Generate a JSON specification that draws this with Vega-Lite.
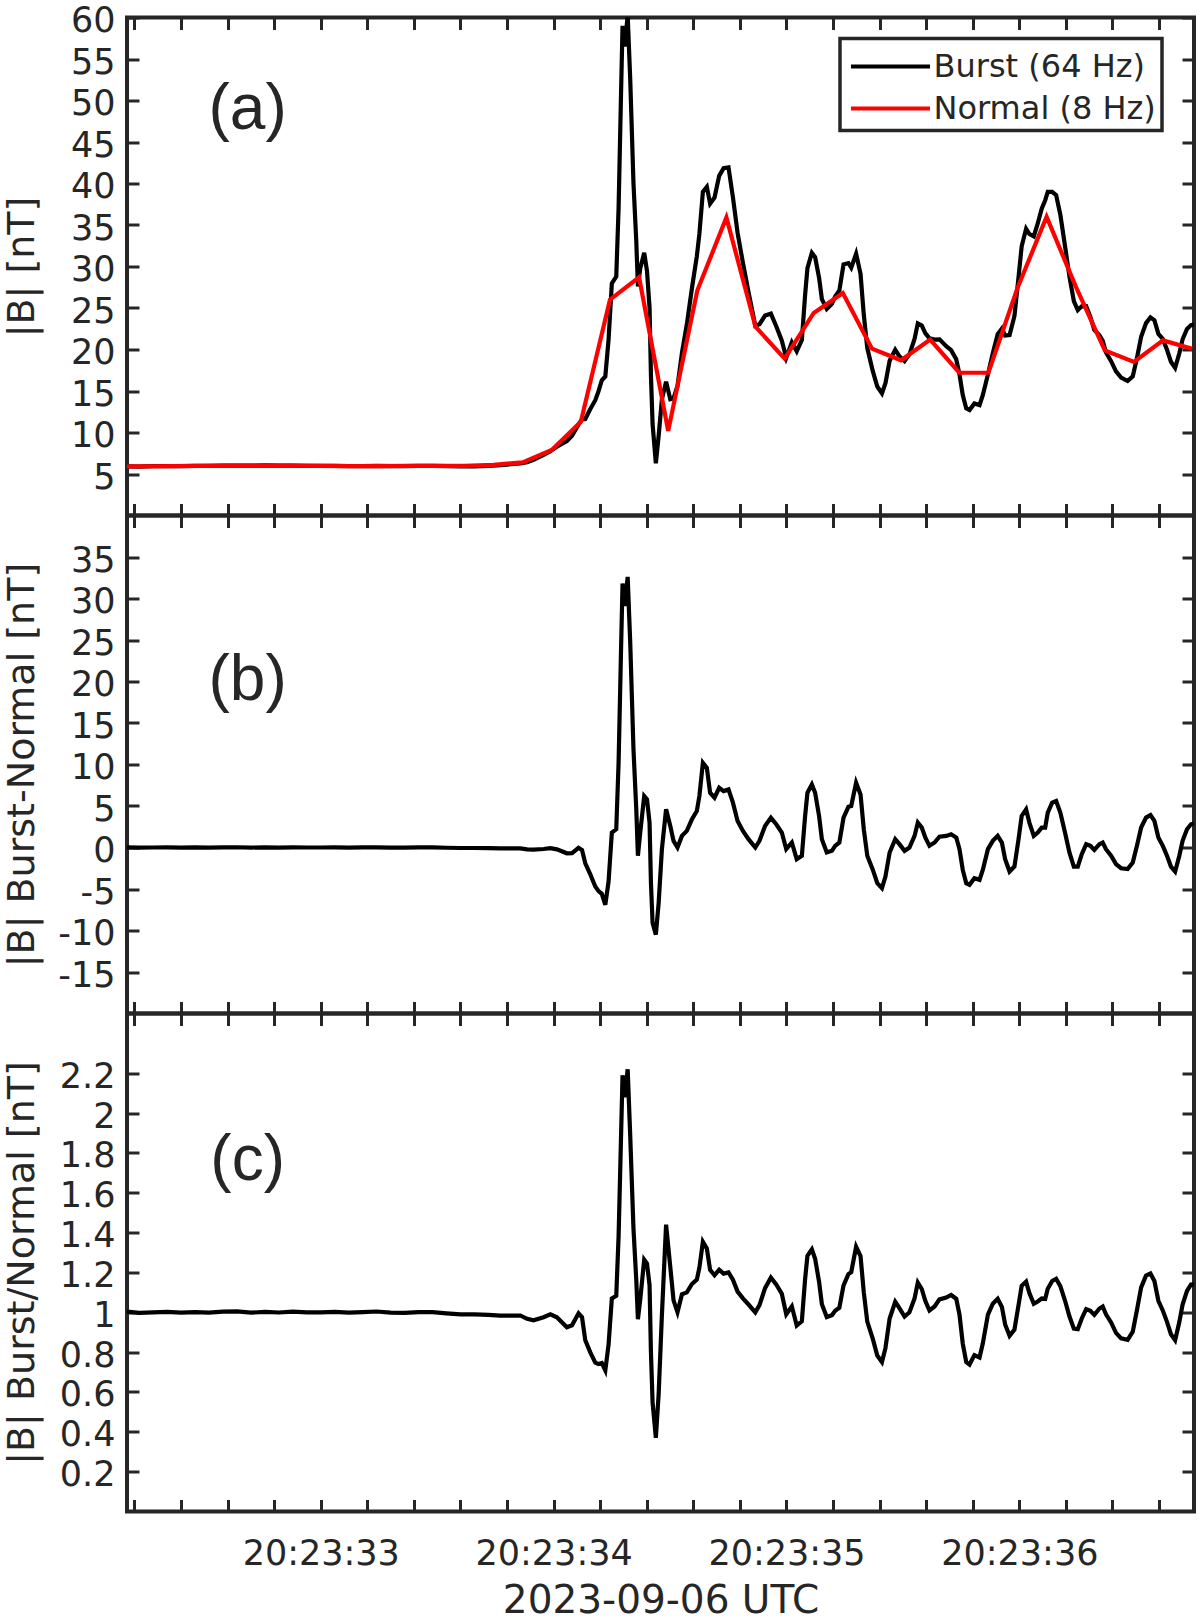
{
  "$schema": "https://vega.github.io/schema/vega-lite/v6.json",
  "padding": {"left": 0, "top": 1.5, "right": 4, "bottom": 0},
  "spacing": 0,
  "bounds": "flush",
  "config": {
    "font": "DejaVu Sans",
    "view": {"stroke": "#262626", "strokeWidth": 4},
    "axis": {
      "domain": false, "grid": false, "ticks": true,
      "tickSize": -12, "tickWidth": 3, "tickColor": "#262626",
      "labelFont": "DejaVu Sans", "labelFontSize": 35, "labelColor": "#262626", "labelPadding": 24,
      "labelOverlap": false, "labelFlush": false, "labelBound": false,
      "titleFont": "DejaVu Sans", "titleFontSize": 38, "titleFontWeight": "normal", "titleColor": "#262626"
    },
    "axisLeft": {"labelOffset": 3}
  },
  "datasets": {
    "burst": [
      {"t": 32.168, "burst": 5.91, "diff": 0.02, "ratio": 1.003},
      {"t": 32.22, "burst": 5.90, "diff": -0.02, "ratio": 0.997},
      {"t": 32.28, "burst": 5.94, "diff": 0.00, "ratio": 1.000},
      {"t": 32.34, "burst": 5.95, "diff": 0.01, "ratio": 1.002},
      {"t": 32.40, "burst": 5.95, "diff": -0.01, "ratio": 0.998},
      {"t": 32.46, "burst": 5.97, "diff": 0.01, "ratio": 1.001},
      {"t": 32.52, "burst": 5.97, "diff": -0.01, "ratio": 0.998},
      {"t": 32.58, "burst": 6.01, "diff": 0.02, "ratio": 1.003},
      {"t": 32.64, "burst": 6.02, "diff": 0.03, "ratio": 1.005},
      {"t": 32.70, "burst": 6.00, "diff": -0.01, "ratio": 0.998},
      {"t": 32.76, "burst": 6.03, "diff": 0.01, "ratio": 1.002},
      {"t": 32.82, "burst": 6.00, "diff": -0.01, "ratio": 0.999},
      {"t": 32.88, "burst": 6.01, "diff": 0.02, "ratio": 1.003},
      {"t": 32.94, "burst": 5.98, "diff": 0.00, "ratio": 1.000},
      {"t": 33.00, "burst": 5.97, "diff": 0.00, "ratio": 1.000},
      {"t": 33.06, "burst": 5.97, "diff": 0.01, "ratio": 1.002},
      {"t": 33.12, "burst": 5.94, "diff": -0.01, "ratio": 0.998},
      {"t": 33.18, "burst": 5.96, "diff": 0.01, "ratio": 1.001},
      {"t": 33.24, "burst": 5.98, "diff": 0.02, "ratio": 1.004},
      {"t": 33.30, "burst": 5.95, "diff": -0.01, "ratio": 0.998},
      {"t": 33.36, "burst": 5.96, "diff": -0.02, "ratio": 0.997},
      {"t": 33.42, "burst": 5.98, "diff": 0.01, "ratio": 1.001},
      {"t": 33.48, "burst": 5.98, "diff": 0.01, "ratio": 1.001},
      {"t": 33.54, "burst": 5.95, "diff": -0.03, "ratio": 0.995},
      {"t": 33.60, "burst": 5.92, "diff": -0.06, "ratio": 0.990},
      {"t": 33.66, "burst": 5.93, "diff": -0.06, "ratio": 0.990},
      {"t": 33.72, "burst": 5.99, "diff": -0.08, "ratio": 0.987},
      {"t": 33.771, "burst": 6.07, "diff": -0.10, "ratio": 0.983},
      {"t": 33.857, "burst": 6.28, "diff": -0.10, "ratio": 0.984},
      {"t": 33.886, "burst": 6.41, "diff": -0.22, "ratio": 0.967},
      {"t": 33.914, "burst": 6.71, "diff": -0.25, "ratio": 0.960},
      {"t": 33.957, "burst": 7.30, "diff": -0.18, "ratio": 0.975},
      {"t": 33.986, "burst": 7.75, "diff": -0.08, "ratio": 0.990},
      {"t": 34.014, "burst": 8.28, "diff": -0.22, "ratio": 0.975},
      {"t": 34.057, "burst": 8.97, "diff": -0.70, "ratio": 0.925},
      {"t": 34.079, "burst": 9.60, "diff": -0.67, "ratio": 0.935},
      {"t": 34.107, "burst": 10.97, "diff": -0.05, "ratio": 0.995},
      {"t": 34.122, "burst": 11.59, "diff": -0.30, "ratio": 0.975},
      {"t": 34.136, "burst": 11.63, "diff": -1.90, "ratio": 0.860},
      {"t": 34.157, "burst": 12.80, "diff": -3.20, "ratio": 0.800},
      {"t": 34.179, "burst": 13.89, "diff": -4.70, "ratio": 0.747},
      {"t": 34.193, "burst": 14.98, "diff": -5.26, "ratio": 0.740},
      {"t": 34.207, "burst": 16.30, "diff": -5.58, "ratio": 0.745},
      {"t": 34.222, "burst": 16.75, "diff": -6.90, "ratio": 0.708},
      {"t": 34.236, "burst": 21.19, "diff": -4.10, "ratio": 0.838},
      {"t": 34.250, "burst": 27.97, "diff": 1.80, "ratio": 1.069},
      {"t": 34.269, "burst": 28.78, "diff": 2.20, "ratio": 1.083},
      {"t": 34.279, "burst": 37.00, "diff": 10.20, "ratio": 1.381},
      {"t": 34.289, "burst": 50.12, "diff": 23.10, "ratio": 1.855},
      {"t": 34.296, "burst": 59.00, "diff": 31.80, "ratio": 2.190},
      {"t": 34.306, "burst": 56.50, "diff": 29.10, "ratio": 2.080},
      {"t": 34.318, "burst": 60.30, "diff": 32.60, "ratio": 2.220},
      {"t": 34.329, "burst": 52.58, "diff": 24.70, "ratio": 1.886},
      {"t": 34.343, "burst": 39.98, "diff": 11.80, "ratio": 1.419},
      {"t": 34.355, "burst": 33.04, "diff": 4.60, "ratio": 1.162},
      {"t": 34.362, "burst": 27.59, "diff": -1.00, "ratio": 0.965},
      {"t": 34.372, "burst": 29.76, "diff": 1.80, "ratio": 1.064},
      {"t": 34.389, "burst": 31.64, "diff": 6.20, "ratio": 1.264},
      {"t": 34.401, "burst": 29.47, "diff": 5.80, "ratio": 1.245},
      {"t": 34.412, "burst": 25.04, "diff": 3.00, "ratio": 1.136},
      {"t": 34.418, "burst": 16.85, "diff": -4.30, "ratio": 0.797},
      {"t": 34.425, "burst": 11.02, "diff": -9.10, "ratio": 0.548},
      {"t": 34.439, "burst": 6.30, "diff": -10.50, "ratio": 0.370},
      {"t": 34.451, "burst": 9.57, "diff": -6.70, "ratio": 0.588},
      {"t": 34.465, "burst": 14.00, "diff": -0.20, "ratio": 0.986},
      {"t": 34.483, "burst": 16.13, "diff": 4.60, "ratio": 1.440},
      {"t": 34.501, "burst": 14.02, "diff": 2.60, "ratio": 1.228},
      {"t": 34.515, "burst": 14.11, "diff": 0.80, "ratio": 1.060},
      {"t": 34.532, "burst": 15.61, "diff": 0.00, "ratio": 1.000},
      {"t": 34.551, "burst": 19.58, "diff": 1.40, "ratio": 1.090},
      {"t": 34.572, "burst": 23.02, "diff": 2.00, "ratio": 1.100},
      {"t": 34.594, "burst": 27.39, "diff": 3.40, "ratio": 1.142},
      {"t": 34.615, "burst": 31.23, "diff": 4.40, "ratio": 1.164},
      {"t": 34.626, "burst": 33.93, "diff": 6.20, "ratio": 1.224},
      {"t": 34.641, "burst": 38.99, "diff": 10.20, "ratio": 1.354},
      {"t": 34.658, "burst": 39.59, "diff": 9.60, "ratio": 1.320},
      {"t": 34.672, "burst": 37.57, "diff": 6.60, "ratio": 1.213},
      {"t": 34.691, "burst": 38.31, "diff": 6.00, "ratio": 1.186},
      {"t": 34.711, "burst": 40.92, "diff": 7.20, "ratio": 1.214},
      {"t": 34.730, "burst": 41.85, "diff": 6.80, "ratio": 1.194},
      {"t": 34.751, "burst": 41.95, "diff": 7.00, "ratio": 1.200},
      {"t": 34.770, "burst": 38.35, "diff": 5.40, "ratio": 1.164},
      {"t": 34.790, "burst": 34.05, "diff": 3.20, "ratio": 1.104},
      {"t": 34.813, "burst": 30.43, "diff": 2.00, "ratio": 1.070},
      {"t": 34.837, "burst": 26.91, "diff": 1.00, "ratio": 1.039},
      {"t": 34.866, "burst": 22.86, "diff": 0.00, "ratio": 1.000},
      {"t": 34.884, "burst": 23.03, "diff": 0.80, "ratio": 1.036},
      {"t": 34.908, "burst": 24.09, "diff": 2.60, "ratio": 1.121},
      {"t": 34.933, "burst": 24.32, "diff": 3.60, "ratio": 1.174},
      {"t": 34.956, "burst": 22.81, "diff": 2.80, "ratio": 1.140},
      {"t": 34.980, "burst": 21.07, "diff": 1.80, "ratio": 1.093},
      {"t": 34.999, "burst": 19.01, "diff": -0.20, "ratio": 0.990},
      {"t": 35.023, "burst": 20.86, "diff": 0.60, "ratio": 1.030},
      {"t": 35.044, "burst": 19.79, "diff": -1.40, "ratio": 0.934},
      {"t": 35.066, "burst": 21.16, "diff": -1.00, "ratio": 0.955},
      {"t": 35.080, "burst": 26.57, "diff": 3.80, "ratio": 1.167},
      {"t": 35.090, "burst": 29.81, "diff": 6.60, "ratio": 1.284},
      {"t": 35.109, "burst": 31.65, "diff": 7.60, "ratio": 1.316},
      {"t": 35.123, "burst": 31.12, "diff": 6.60, "ratio": 1.269},
      {"t": 35.140, "burst": 28.64, "diff": 3.80, "ratio": 1.153},
      {"t": 35.152, "burst": 26.07, "diff": 1.00, "ratio": 1.040},
      {"t": 35.173, "burst": 24.88, "diff": -0.60, "ratio": 0.976},
      {"t": 35.195, "burst": 25.50, "diff": -0.40, "ratio": 0.985},
      {"t": 35.209, "burst": 26.37, "diff": 0.20, "ratio": 1.008},
      {"t": 35.227, "burst": 27.11, "diff": 0.60, "ratio": 1.023},
      {"t": 35.245, "burst": 30.24, "diff": 3.60, "ratio": 1.135},
      {"t": 35.266, "burst": 30.41, "diff": 4.90, "ratio": 1.192},
      {"t": 35.278, "burst": 29.87, "diff": 5.00, "ratio": 1.201},
      {"t": 35.299, "burst": 31.54, "diff": 7.80, "ratio": 1.329},
      {"t": 35.318, "burst": 29.13, "diff": 6.40, "ratio": 1.282},
      {"t": 35.332, "burst": 24.18, "diff": 2.20, "ratio": 1.100},
      {"t": 35.347, "burst": 20.17, "diff": -1.00, "ratio": 0.953},
      {"t": 35.371, "burst": 17.36, "diff": -2.70, "ratio": 0.865},
      {"t": 35.390, "burst": 15.54, "diff": -4.30, "ratio": 0.783},
      {"t": 35.410, "burst": 14.72, "diff": -4.90, "ratio": 0.750},
      {"t": 35.425, "burst": 15.95, "diff": -3.50, "ratio": 0.820},
      {"t": 35.443, "burst": 18.65, "diff": -0.60, "ratio": 0.969},
      {"t": 35.467, "burst": 19.98, "diff": 1.00, "ratio": 1.053},
      {"t": 35.485, "burst": 19.18, "diff": 0.40, "ratio": 1.021},
      {"t": 35.507, "burst": 18.60, "diff": -0.40, "ratio": 0.979},
      {"t": 35.528, "burst": 19.42, "diff": 0.00, "ratio": 1.000},
      {"t": 35.550, "burst": 21.26, "diff": 1.40, "ratio": 1.070},
      {"t": 35.564, "burst": 23.14, "diff": 3.00, "ratio": 1.149},
      {"t": 35.581, "burst": 22.88, "diff": 2.40, "ratio": 1.117},
      {"t": 35.596, "burst": 21.98, "diff": 1.20, "ratio": 1.058},
      {"t": 35.614, "burst": 21.34, "diff": 0.20, "ratio": 1.009},
      {"t": 35.636, "burst": 21.19, "diff": 0.60, "ratio": 1.029},
      {"t": 35.657, "burst": 21.22, "diff": 1.30, "ratio": 1.065},
      {"t": 35.686, "burst": 20.39, "diff": 1.40, "ratio": 1.074},
      {"t": 35.707, "burst": 19.92, "diff": 1.60, "ratio": 1.087},
      {"t": 35.729, "burst": 18.82, "diff": 1.20, "ratio": 1.068},
      {"t": 35.743, "burst": 17.00, "diff": -0.20, "ratio": 0.988},
      {"t": 35.757, "burst": 14.50, "diff": -2.70, "ratio": 0.843},
      {"t": 35.772, "burst": 12.90, "diff": -4.30, "ratio": 0.750},
      {"t": 35.786, "burst": 12.70, "diff": -4.50, "ratio": 0.738},
      {"t": 35.807, "burst": 13.50, "diff": -3.70, "ratio": 0.785},
      {"t": 35.829, "burst": 13.30, "diff": -3.90, "ratio": 0.773},
      {"t": 35.843, "burst": 14.50, "diff": -2.70, "ratio": 0.843},
      {"t": 35.865, "burst": 17.00, "diff": -0.20, "ratio": 0.988},
      {"t": 35.886, "burst": 19.55, "diff": 0.80, "ratio": 1.043},
      {"t": 35.907, "burst": 21.86, "diff": 1.40, "ratio": 1.068},
      {"t": 35.925, "burst": 22.53, "diff": 0.60, "ratio": 1.027},
      {"t": 35.939, "burst": 21.68, "diff": -1.40, "ratio": 0.939},
      {"t": 35.958, "burst": 21.73, "diff": -2.90, "ratio": 0.882},
      {"t": 35.979, "burst": 24.04, "diff": -2.30, "ratio": 0.913},
      {"t": 35.996, "burst": 28.58, "diff": 0.90, "ratio": 1.033},
      {"t": 36.010, "burst": 32.44, "diff": 3.80, "ratio": 1.133},
      {"t": 36.029, "burst": 34.55, "diff": 4.60, "ratio": 1.154},
      {"t": 36.043, "burst": 33.91, "diff": 3.00, "ratio": 1.097},
      {"t": 36.062, "burst": 33.62, "diff": 1.40, "ratio": 1.043},
      {"t": 36.079, "burst": 35.19, "diff": 1.80, "ratio": 1.054},
      {"t": 36.096, "burst": 36.96, "diff": 2.40, "ratio": 1.069},
      {"t": 36.111, "burst": 37.99, "diff": 2.40, "ratio": 1.067},
      {"t": 36.122, "burst": 39.00, "diff": 4.20, "ratio": 1.118},
      {"t": 36.141, "burst": 39.00, "diff": 5.40, "ratio": 1.157},
      {"t": 36.158, "burst": 38.60, "diff": 5.60, "ratio": 1.168},
      {"t": 36.176, "burst": 36.24, "diff": 4.20, "ratio": 1.131},
      {"t": 36.196, "burst": 32.49, "diff": 1.80, "ratio": 1.059},
      {"t": 36.215, "burst": 28.81, "diff": -0.60, "ratio": 0.980},
      {"t": 36.234, "burst": 25.84, "diff": -2.30, "ratio": 0.918},
      {"t": 36.251, "burst": 24.75, "diff": -2.30, "ratio": 0.915},
      {"t": 36.268, "burst": 25.20, "diff": -0.80, "ratio": 0.969},
      {"t": 36.287, "burst": 25.23, "diff": 0.40, "ratio": 1.016},
      {"t": 36.305, "burst": 23.92, "diff": 0.20, "ratio": 1.008},
      {"t": 36.322, "burst": 22.37, "diff": -0.30, "ratio": 0.987},
      {"t": 36.344, "burst": 21.72, "diff": 0.40, "ratio": 1.019},
      {"t": 36.358, "burst": 21.05, "diff": 0.60, "ratio": 1.029},
      {"t": 36.372, "burst": 19.64, "diff": -0.20, "ratio": 0.990},
      {"t": 36.394, "burst": 18.60, "diff": -1.00, "ratio": 0.949},
      {"t": 36.415, "burst": 17.36, "diff": -2.00, "ratio": 0.897},
      {"t": 36.437, "burst": 16.62, "diff": -2.50, "ratio": 0.869},
      {"t": 36.465, "burst": 16.20, "diff": -2.60, "ratio": 0.862},
      {"t": 36.487, "burst": 16.76, "diff": -1.80, "ratio": 0.903},
      {"t": 36.505, "burst": 18.97, "diff": 0.20, "ratio": 1.011},
      {"t": 36.523, "burst": 21.54, "diff": 2.40, "ratio": 1.125},
      {"t": 36.544, "burst": 23.18, "diff": 3.60, "ratio": 1.184},
      {"t": 36.563, "burst": 23.88, "diff": 3.90, "ratio": 1.195},
      {"t": 36.580, "burst": 23.53, "diff": 3.20, "ratio": 1.157},
      {"t": 36.597, "burst": 21.88, "diff": 1.20, "ratio": 1.058},
      {"t": 36.616, "burst": 21.28, "diff": 0.20, "ratio": 1.009},
      {"t": 36.634, "burst": 19.96, "diff": -1.00, "ratio": 0.952},
      {"t": 36.651, "burst": 18.53, "diff": -2.30, "ratio": 0.890},
      {"t": 36.669, "burst": 17.78, "diff": -2.90, "ratio": 0.860},
      {"t": 36.687, "burst": 19.54, "diff": -1.00, "ratio": 0.951},
      {"t": 36.701, "burst": 21.23, "diff": 0.80, "ratio": 1.039},
      {"t": 36.720, "burst": 22.48, "diff": 2.20, "ratio": 1.108},
      {"t": 36.737, "burst": 22.94, "diff": 2.80, "ratio": 1.139},
      {"t": 36.750, "burst": 23.00, "diff": 2.90, "ratio": 1.140}
    ],
    "normal": [
      {"t": 32.117, "normal": 5.90}, {"t": 32.242, "normal": 5.92}, {"t": 32.367, "normal": 5.95},
      {"t": 32.492, "normal": 5.97}, {"t": 32.617, "normal": 6.00}, {"t": 32.742, "normal": 6.02},
      {"t": 32.867, "normal": 6.00}, {"t": 32.992, "normal": 5.97}, {"t": 33.117, "normal": 5.95},
      {"t": 33.242, "normal": 5.96}, {"t": 33.367, "normal": 5.98}, {"t": 33.492, "normal": 5.97},
      {"t": 33.617, "normal": 5.98}, {"t": 33.742, "normal": 6.10}, {"t": 33.867, "normal": 6.40},
      {"t": 33.992, "normal": 7.90}, {"t": 34.117, "normal": 11.30}, {"t": 34.242, "normal": 26.0},
      {"t": 34.367, "normal": 28.7}, {"t": 34.492, "normal": 10.2}, {"t": 34.617, "normal": 27.1},
      {"t": 34.742, "normal": 35.9}, {"t": 34.867, "normal": 22.75}, {"t": 34.992, "normal": 18.9},
      {"t": 35.117, "normal": 24.4}, {"t": 35.242, "normal": 26.8}, {"t": 35.367, "normal": 20.1},
      {"t": 35.492, "normal": 18.7}, {"t": 35.617, "normal": 21.2}, {"t": 35.742, "normal": 17.2},
      {"t": 35.867, "normal": 17.2}, {"t": 35.992, "normal": 27.4}, {"t": 36.117, "normal": 36.0},
      {"t": 36.242, "normal": 27.6}, {"t": 36.367, "normal": 19.9}, {"t": 36.492, "normal": 18.5},
      {"t": 36.617, "normal": 21.1}, {"t": 36.742, "normal": 20.1}
    ]
  },
  "vconcat": [
    {
      "width": 1067,
      "height": 498,
      "layer": [
        {
          "data": {"name": "burst"},
          "mark": {"type": "line", "color": "black", "strokeWidth": 4.2, "clip": true},
          "encoding": {
            "x": {"field": "t", "type": "quantitative", "scale": {"domain": [32.168, 36.75], "nice": false, "zero": false},
                  "axis": {"orient": "bottom", "values": [32.2, 32.4, 32.6, 32.8, 33, 33.2, 33.4, 33.6, 33.8, 34, 34.2, 34.4, 34.6, 34.8, 35, 35.2, 35.4, 35.6, 35.8, 36, 36.2, 36.4, 36.6], "labels": false, "title": null}},
            "y": {"field": "burst", "type": "quantitative", "scale": {"domain": [0, 60], "nice": false, "zero": false},
                  "axis": {"orient": "left", "values": [5, 10, 15, 20, 25, 30, 35, 40, 45, 50, 55, 60], "labelExpr": "'' + datum.value", "title": "|B| [nT]", "titleX": -124, "titleBaseline": "top"}},
            "color": {"datum": "Burst (64 Hz)", "type": "nominal",
                      "scale": {"domain": ["Burst (64 Hz)", "Normal (8 Hz)"], "range": ["#000000", "#ff0000"]},
                      "legend": {"orient": "none", "legendX": 713, "legendY": 21, "title": null,
                                 "fillColor": "white", "strokeColor": "#262626", "padding": 6,
                                 "symbolType": "M-1.975,0H1.975", "symbolSize": 1600, "symbolStrokeWidth": 4,
                                 "symbolOffset": 22.5, "labelOffset": 21, "rowPadding": 4,
                                 "labelFont": "DejaVu Sans", "labelFontSize": 32, "labelColor": "#262626", "labelLimit": 400,
                                 "encode": {"legend": {"update": {"strokeWidth": {"value": 3.5}}}}}}
          }
        },
        {
          "data": {"name": "normal"},
          "mark": {"type": "line", "color": "#ff0000", "strokeWidth": 4.2, "clip": true},
          "encoding": {
            "x": {"field": "t", "type": "quantitative",
                  "axis": {"orient": "top", "values": [32.2, 32.4, 32.6, 32.8, 33, 33.2, 33.4, 33.6, 33.8, 34, 34.2, 34.4, 34.6, 34.8, 35, 35.2, 35.4, 35.6, 35.8, 36, 36.2, 36.4, 36.6], "labels": false, "title": null}},
            "y": {"field": "normal", "type": "quantitative",
                  "axis": {"orient": "right", "values": [5, 10, 15, 20, 25, 30, 35, 40, 45, 50, 55, 60], "labels": false, "title": null}},
            "color": {"datum": "Normal (8 Hz)", "type": "nominal"}
          }
        },
        {
          "data": {"values": [{}]},
          "mark": {"type": "text", "font": "Liberation Sans", "fontSize": 64, "align": "center", "baseline": "alphabetic", "color": "#262626"},
          "encoding": {
            "x": {"datum": 32.686, "type": "quantitative", "axis": null},
            "y": {"datum": 46.6, "type": "quantitative", "axis": null},
            "text": {"value": "(a)"}
          }
        }
      ],
      "resolve": {"axis": {"x": "independent", "y": "independent"}}
    },
    {
      "width": 1067,
      "height": 498,
      "layer": [
        {
          "data": {"name": "burst"},
          "mark": {"type": "line", "color": "black", "strokeWidth": 4.2, "clip": true},
          "encoding": {
            "x": {"field": "t", "type": "quantitative", "scale": {"domain": [32.168, 36.75], "nice": false, "zero": false},
                  "axis": {"orient": "bottom", "values": [32.2, 32.4, 32.6, 32.8, 33, 33.2, 33.4, 33.6, 33.8, 34, 34.2, 34.4, 34.6, 34.8, 35, 35.2, 35.4, 35.6, 35.8, 36, 36.2, 36.4, 36.6], "labels": false, "title": null}},
            "y": {"field": "diff", "type": "quantitative", "scale": {"domain": [-20, 40], "nice": false, "zero": false},
                  "axis": {"orient": "left", "values": [-15, -10, -5, 0, 5, 10, 15, 20, 25, 30, 35], "labelExpr": "'' + datum.value", "title": "|B| Burst-Normal [nT]", "titleX": -124, "titleBaseline": "top"}}
          }
        },
        {
          "data": {"name": "burst"},
          "mark": {"type": "line", "strokeOpacity": 0},
          "encoding": {
            "x": {"field": "t", "type": "quantitative",
                  "axis": {"orient": "top", "values": [32.2, 32.4, 32.6, 32.8, 33, 33.2, 33.4, 33.6, 33.8, 34, 34.2, 34.4, 34.6, 34.8, 35, 35.2, 35.4, 35.6, 35.8, 36, 36.2, 36.4, 36.6], "labels": false, "title": null}},
            "y": {"field": "diff", "type": "quantitative",
                  "axis": {"orient": "right", "values": [-15, -10, -5, 0, 5, 10, 15, 20, 25, 30, 35], "labels": false, "title": null}}
          }
        },
        {
          "data": {"values": [{}]},
          "mark": {"type": "text", "font": "Liberation Sans", "fontSize": 64, "align": "center", "baseline": "alphabetic", "color": "#262626"},
          "encoding": {
            "x": {"datum": 32.686, "type": "quantitative", "axis": null},
            "y": {"datum": 17.8, "type": "quantitative", "axis": null},
            "text": {"value": "(b)"}
          }
        }
      ],
      "resolve": {"axis": {"x": "independent", "y": "independent"}}
    },
    {
      "width": 1067,
      "height": 498,
      "layer": [
        {
          "data": {"name": "burst"},
          "mark": {"type": "line", "color": "black", "strokeWidth": 4.2, "clip": true},
          "encoding": {
            "x": {"field": "t", "type": "quantitative", "scale": {"domain": [32.168, 36.75], "nice": false, "zero": false},
                  "axis": {"orient": "bottom", "values": [32.2, 32.4, 32.6, 32.8, 33, 33.2, 33.4, 33.6, 33.8, 34, 34.2, 34.4, 34.6, 34.8, 35, 35.2, 35.4, 35.6, 35.8, 36, 36.2, 36.4, 36.6],
                           "labelExpr": "abs(datum.value - round(datum.value)) < 0.001 ? '20:23:' + round(datum.value) : ''",
                           "labelPadding": 37, "labelBaseline": "top",
                           "title": "2023-09-06 UTC", "titleFontSize": 39, "titleY": 101, "titleBaseline": "alphabetic"}},
            "y": {"field": "ratio", "type": "quantitative", "scale": {"domain": [0, 2.5], "nice": false, "zero": false},
                  "axis": {"orient": "left", "values": [0.2, 0.4, 0.6, 0.8, 1, 1.2, 1.4, 1.6, 1.8, 2, 2.2], "labelExpr": "'' + datum.value", "title": "|B| Burst/Normal [nT]", "titleX": -124, "titleBaseline": "top"}}
          }
        },
        {
          "data": {"name": "burst"},
          "mark": {"type": "line", "strokeOpacity": 0},
          "encoding": {
            "x": {"field": "t", "type": "quantitative",
                  "axis": {"orient": "top", "values": [32.2, 32.4, 32.6, 32.8, 33, 33.2, 33.4, 33.6, 33.8, 34, 34.2, 34.4, 34.6, 34.8, 35, 35.2, 35.4, 35.6, 35.8, 36, 36.2, 36.4, 36.6], "labels": false, "title": null}},
            "y": {"field": "ratio", "type": "quantitative",
                  "axis": {"orient": "right", "values": [0.2, 0.4, 0.6, 0.8, 1, 1.2, 1.4, 1.6, 1.8, 2, 2.2], "labels": false, "title": null}}
          }
        },
        {
          "data": {"values": [{}]},
          "mark": {"type": "text", "font": "Liberation Sans", "fontSize": 64, "align": "center", "baseline": "alphabetic", "color": "#262626"},
          "encoding": {
            "x": {"datum": 32.686, "type": "quantitative", "axis": null},
            "y": {"datum": 1.666, "type": "quantitative", "axis": null},
            "text": {"value": "(c)"}
          }
        }
      ],
      "resolve": {"axis": {"x": "independent", "y": "independent"}}
    }
  ]
}
